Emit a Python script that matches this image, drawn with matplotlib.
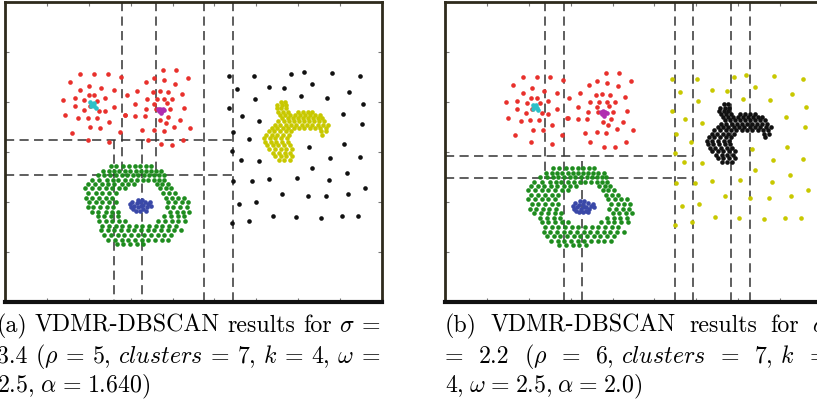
import numpy as np
import matplotlib
matplotlib.use("Agg")
import matplotlib.pyplot as plt

plt.rcParams['font.family'] = 'serif'
plt.rcParams['font.serif'] = ['cmr10', 'DejaVu Serif']
plt.rcParams['mathtext.fontset'] = 'cm'
plt.rcParams['axes.unicode_minus'] = False

red_pts = [(241,226),(283,226),(323,226),(362,233),(211,249),(268,260),(303,268),(241,273),(343,273),
           (266,289),(283,289),(224,297),(316,297),(190,302),(252,303),(292,305),(224,322),(269,322),
           (343,323),(251,333),(298,335),(315,337),(195,349),(375,349),(234,358),(263,357),(290,357),
           (328,370),(271,385),(300,386),(216,402),(359,400),(264,422),(328,428),
           (490,214),(528,212),(463,238),(493,243),(438,249),(525,254),(564,238),(411,275),(459,280),
           (479,276),(503,279),(547,286),(380,289),(441,301),(470,301),(493,300),(517,301),(406,315),
           (462,315),(500,312),(437,330),(467,330),(510,330),(553,327),(374,349),(406,352),(434,352),
           (505,353),(480,362),(540,362),(497,372),(523,383),(571,386),(426,394),(463,393),(491,396),
           (443,423),(550,423),(483,436),(517,438)]
cyan_pts = [(270,310),(276,315),(282,320),(287,326),(272,322),(281,311)]
magenta_pts = [(474,331),(481,329),(488,330),(478,337),(485,336),(483,343),(492,334)]
blue_pts = [(390,615),(397,608),(403,620),(410,612),(415,625),(400,630),(408,635),(420,610),(425,602),
            (430,618),(435,608),(440,625),(445,615),(450,610),(430,630),(420,635),(413,602),(393,625),
            (437,635),(453,620),(423,620)]

# ring: row y -> x positions
green_rows = {
    502: [332, 348, 370, 388, 405, 421, 438, 453],
    515: [310, 327, 342, 358, 375, 390, 407, 422, 437, 452, 467, 483],
    528: [293, 313, 330, 347, 365, 382, 398, 415, 433, 448, 463, 478, 491],
    542: [275, 297, 322, 340, 355, 375, 393, 411, 428, 445, 462, 477, 493],
    555: [265, 285, 305, 325, 343, 365, 383, 401, 470, 487, 503],
    568: [255, 277, 297, 317, 337, 357, 375, 480, 497, 513],
    582: [265, 287, 307, 327, 347, 490, 508, 525],
    596: [257, 277, 297, 317, 337, 497, 517, 535, 553],
    610: [267, 287, 307, 327, 347, 505, 525, 545, 563],
    624: [263, 280, 300, 320, 340, 500, 520, 540, 560],
    638: [275, 295, 317, 337, 355, 510, 530, 550, 568],
    652: [293, 313, 333, 353, 493, 513, 533, 553],
    666: [297, 317, 337, 357, 375, 475, 495, 515, 535, 555],
    680: [307, 327, 347, 367, 387, 407, 427, 447, 467, 487, 507, 527],
    694: [303, 323, 343, 363, 383, 403, 423, 443, 463, 483, 503, 523, 543],
    708: [313, 333, 353, 373, 393, 413, 433, 453, 473, 493, 513],
    722: [325, 345, 365, 385, 405, 425, 445, 465, 485, 505],
    734: [350, 370, 390, 410, 430],
}

# crescent: row y -> x positions
crescent_rows = {
    308: [843, 855],
    318: [832, 847, 858],
    328: [830, 843, 857],
    338: [835, 850, 865, 893, 908, 923, 937],
    347: [840, 855, 871, 885, 900, 915, 930, 945, 959],
    357: [847, 863, 878, 893, 908, 923, 938, 953, 967],
    367: [835, 851, 867, 882, 897, 913, 928, 943, 958, 973],
    377: [825, 841, 857, 873, 889, 905, 921, 937, 953, 969, 985],
    387: [815, 832, 849, 865, 881, 897, 913, 929, 945, 961, 977],
    397: [807, 823, 840, 857, 873, 963, 979],
    408: [799, 815, 832, 849, 866, 967],
    418: [792, 809, 826, 843, 860],
    428: [795, 812, 829, 846, 863],
    439: [801, 818, 835, 852, 869],
    450: [808, 825, 842, 859, 876],
    461: [820, 837, 854, 871],
    472: [825, 842, 859, 876],
    482: [837, 853, 869],
}

noise_pts = [(687,230),(763,231),(873,225),(911,219),(995,222),(1081,230),
             (712,270),(808,265),(852,268),(936,255),(1047,278),
             (766,299),(902,291),(982,296),(1089,315),
             (687,327),(727,352),(778,365),(1029,346),(1086,376),
             (699,399),(746,421),(928,444),(1032,436),
             (697,457),(723,484),(778,487),(991,476),(1081,475),
             (936,508),(1042,521),
             (699,547),(756,545),(808,539),(892,537),(988,542),(1096,568),
             (718,615),(768,609),(847,585),(923,592),(978,592),(1045,586),
             (697,673),(748,665),(818,650),(889,653),(963,656),(1026,652),(1074,652)]

# grid partition lines: (x0, y0, x1, y1)
lines_a = [(15,423,700,423),(15,527,700,527),
           (343,423,343,909),(367,9,367,527),(427,423,427,909),(468,9,468,527),
           (613,9,613,909),(700,9,700,909)]
lines_b = [(7,465,750,465),(7,531,750,531),
           (307,-2,307,534),(364,-2,364,907),(418,480,418,907),
           (696,-2,696,907),(750,-2,750,907),(864,-2,864,907),(922,-2,922,907)]

# caption lines: (pieces, right end of the line in px)
cap_a = [(["(a)", "VDMR-DBSCAN", "results", "for", r"$\sigma$", "="], 380),
         (["3.4", r"$(\rho$", "=", r"$5,\,clusters$", "=", r"$7,\,k$", "=", r"$4,\,\omega$", "="], 380),
         ([r"$2.5,$", r"$\alpha$", "=", r"$1.640)$"], 150)]
cap_b = [(["(b)", "VDMR-DBSCAN", "results", "for", r"$\sigma$"], 828),
         (["=", "2.2", r"$(\rho$", "=", r"$6,\,clusters$", "=", r"$7,\,k$", "="], 828),
         ([r"$4,$", r"$\omega$", "=", r"$2.5,$", r"$\alpha$", "=", r"$2.0)$"], 642)]


def rows_to_xy(rows):
    xs, ys = [], []
    for y, xr in rows.items():
        xs += xr
        ys += [y] * len(xr)
    return np.array(xs), np.array(ys)


def pts_to_xy(pts):
    a = np.array(pts)
    return a[:, 0], a[:, 1]


W, H = 817, 406
fig = plt.figure(figsize=(W / 100, H / 100), dpi=100)

RED, GREEN, BLUE = '#e8302c', '#1e8c1e', '#3a48a8'
YEL, BLK, CYAN, MAG = '#c8c800', '#111111', '#2cc0c8', '#b02cb0'


def panel(left, xlim, ylim, crescent_col, noise_col, lines):
    ax = fig.add_axes([left / W, 103 / H, 377 / W, 300 / H])
    ax.set_xlim(*xlim)
    ax.set_ylim(*ylim)
    for x0, y0, x1, y1 in lines:
        ax.plot([x0, x1], [y0, y1], color='#333333', lw=1.1, dashes=(6, 3.5), zorder=1)
    kw = dict(s=11, linewidths=0, zorder=2)
    ax.scatter(*pts_to_xy(noise_pts), color=noise_col, **kw)
    ax.scatter(*rows_to_xy(crescent_rows), color=crescent_col, **kw)
    ax.scatter(*pts_to_xy(red_pts), color=RED, **kw)
    ax.scatter(*rows_to_xy(green_rows), color=GREEN, **kw)
    ax.scatter(*pts_to_xy(blue_pts), color=BLUE, **kw)
    ax.scatter(*pts_to_xy(cyan_pts), color=CYAN, **kw)
    ax.scatter(*pts_to_xy(magenta_pts), color=MAG, **kw)
    ax.set_xticks(np.linspace(xlim[0], xlim[1], 10))
    ax.set_yticks(np.linspace(ylim[1], ylim[0], 7))
    ax.tick_params(direction='in', length=3, width=0.8, color='#777777',
                   top=True, right=True, labelbottom=False, labelleft=False)
    for s in ax.spines.values():
        s.set_color('#2e2a1c')
        s.set_linewidth(2)
    ax.spines['bottom'].set_linewidth(3)
    ax.spines['bottom'].set_color('#111111')
    return ax


panel(5, (15, 1146), (909, 9), YEL, BLK, lines_a)
panel(445, (7, 1138), (907, -2), BLK, YEL, lines_b)

FS = 17.2
renderer = fig.canvas.get_renderer()


def caption(x0, lines, baselines):
    for (pieces, x1), yb in zip(lines, baselines):
        texts = [fig.text(0, 1 - yb / H, p, fontsize=FS, va='baseline', ha='left')
                 for p in pieces]
        widths = [t.get_window_extent(renderer).width for t in texts]
        gap = (x1 - x0 - sum(widths)) / max(len(pieces) - 1, 1)
        x = x0
        for t, w in zip(texts, widths):
            t.set_x(x / W)
            x += w + gap


caption(-3, cap_a, [332, 363, 392])
caption(445, cap_b, [332, 363, 392])

fig.savefig('out.png', dpi=100)
